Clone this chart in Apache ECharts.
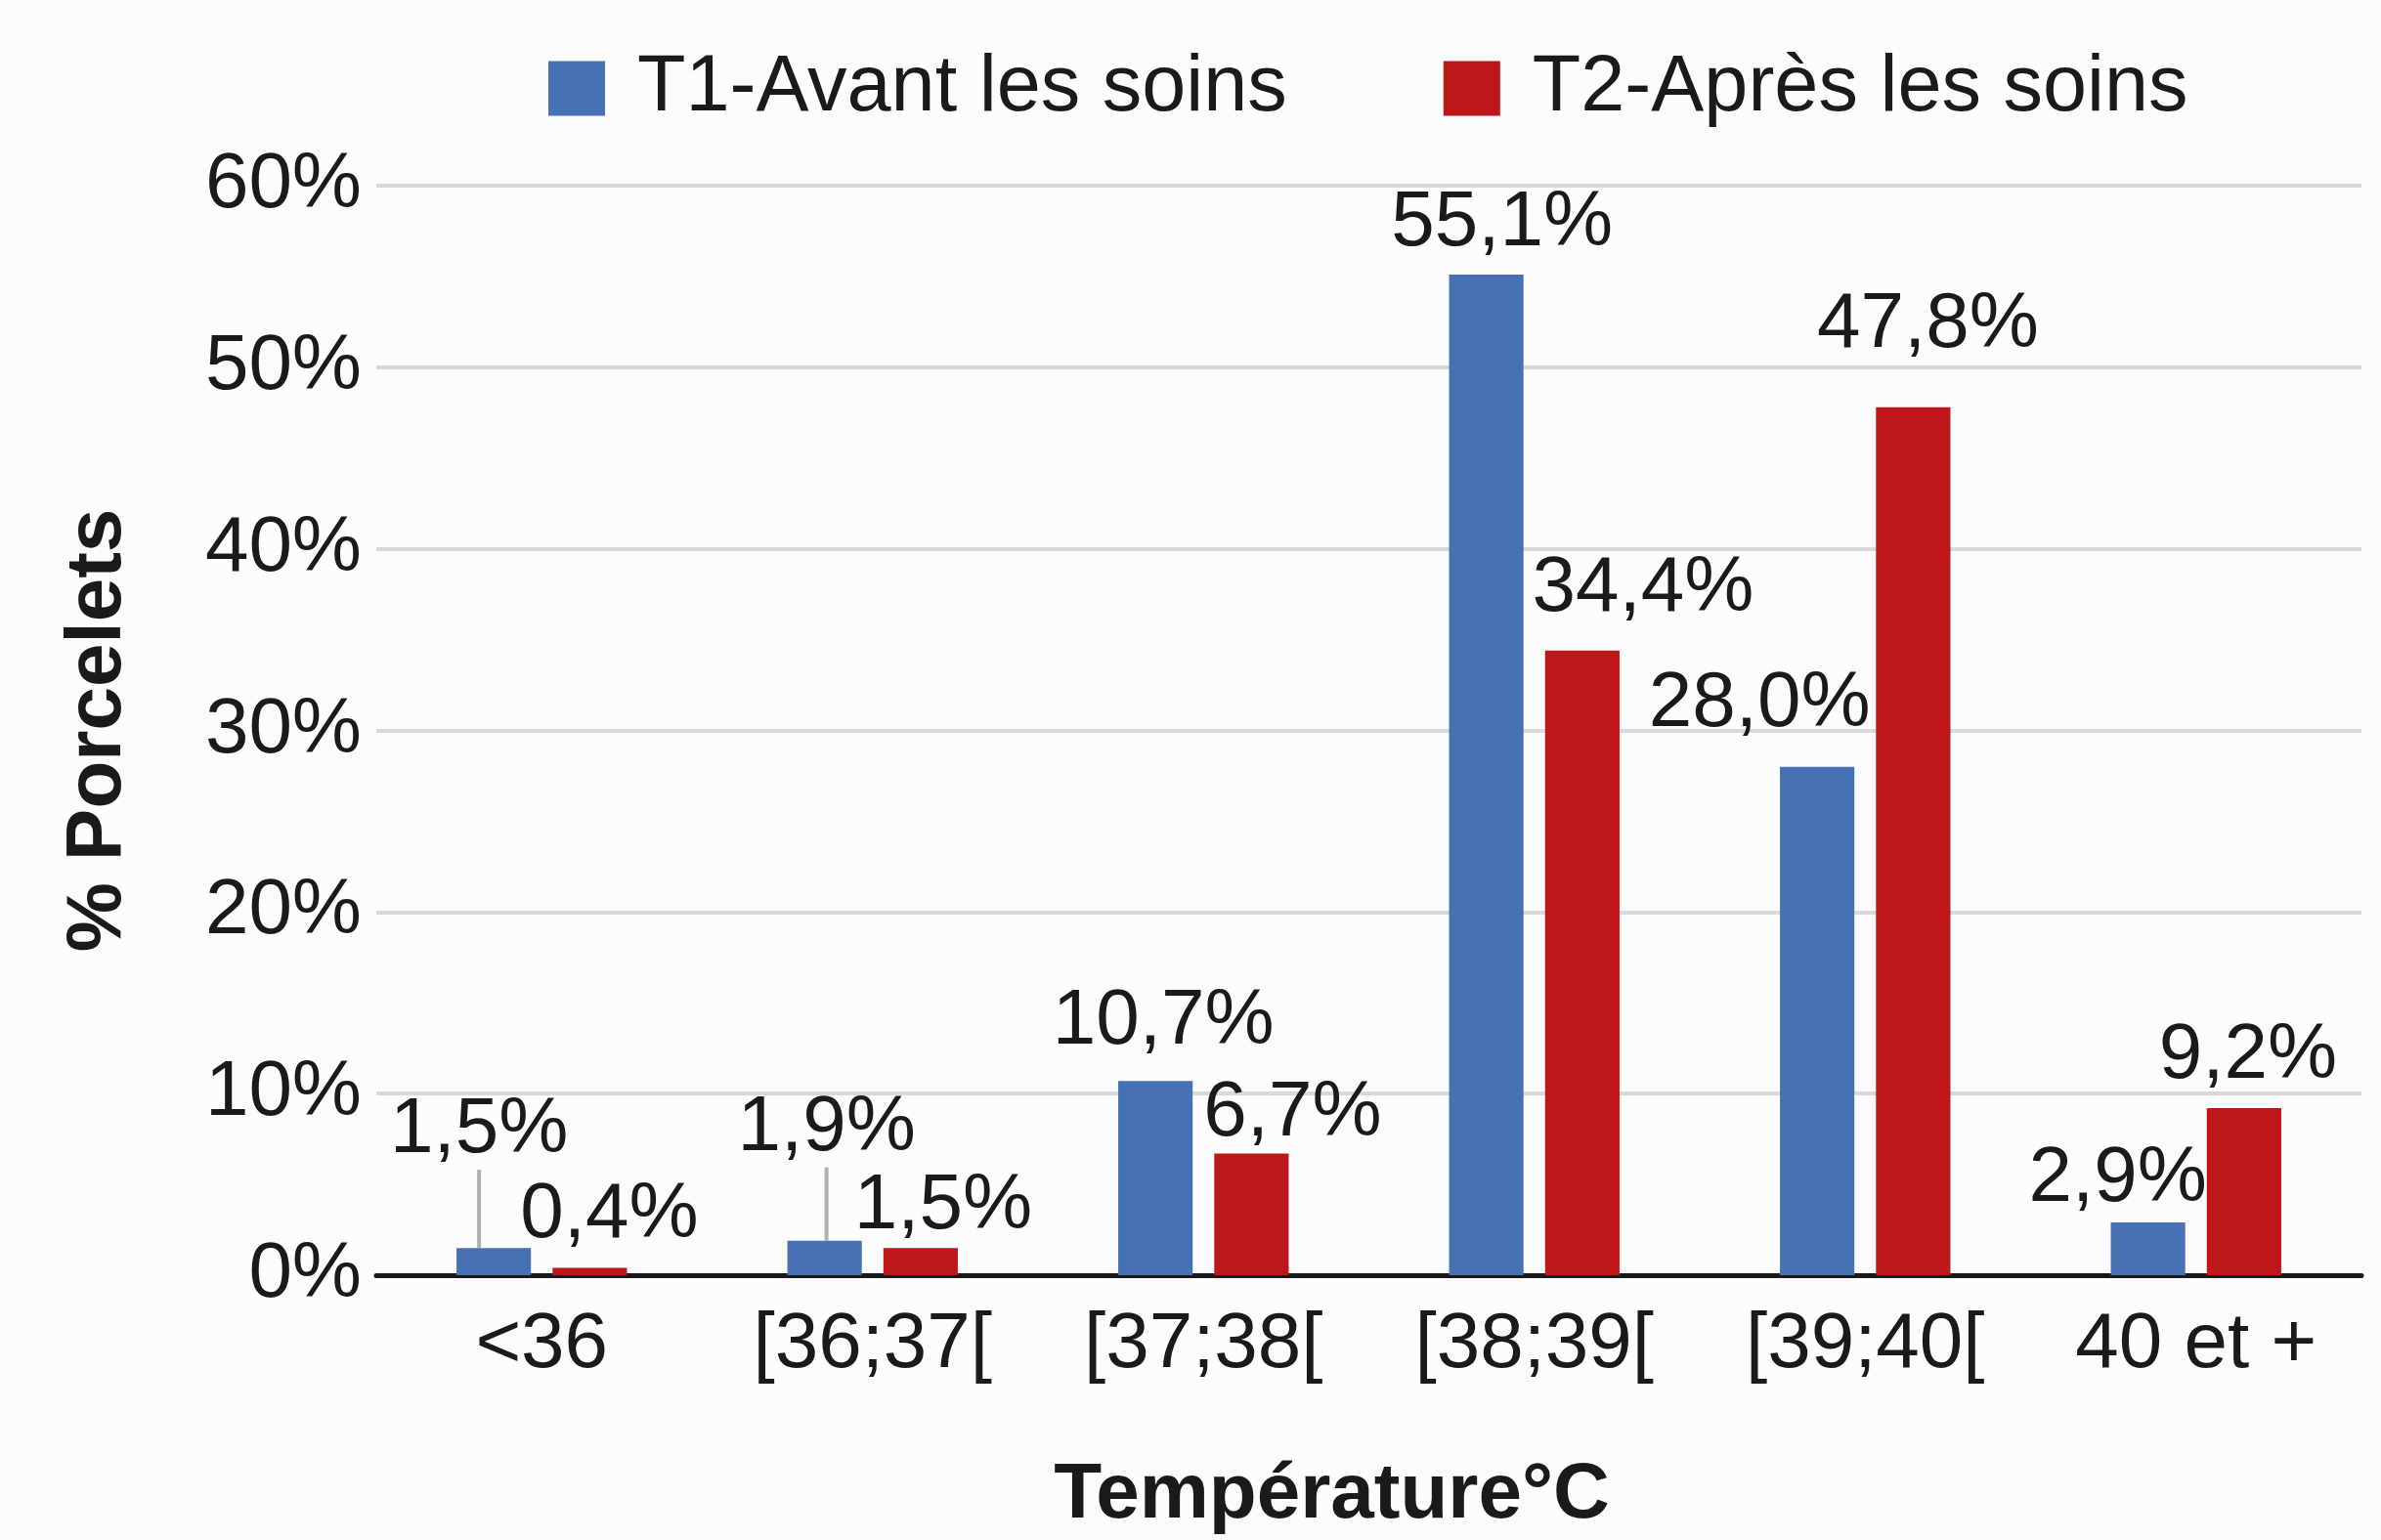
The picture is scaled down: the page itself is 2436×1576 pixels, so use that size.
<!DOCTYPE html>
<html>
<head>
<meta charset="utf-8">
<script src="https://cdn.jsdelivr.net/npm/echarts@6/dist/echarts.min.js"></script>
<style>
html,body{margin:0;padding:0;background:#fcfcfc;}
#chart{width:2436px;height:1576px;}
</style>
</head>
<body>
<div id="chart"></div>
<script>
var categories = ['<36', '[36;37[', '[37;38[', '[38;39[', '[39;40[', '40 et +'];
var seriesNames = ['T1-Avant les soins', 'T2-Après les soins'];
var t1Values = [1.5, 1.9, 10.7, 55.1, 28.0, 2.9];
var t2Values = [0.4, 1.5, 6.7, 34.4, 47.8, 9.2];
var yTicks = [0, 10, 20, 30, 40, 50, 60];

// manual label nudges (dx, dy) in pixels, as in the original figure
var t1LabelShift = [[-15, -80], [2, -75], [8, -20], [16, -12], [-59, -24], [-31, -4]];
var t2LabelShift = [[20, -14], [23, -2], [42, -1], [62, -23], [15, -44], [4, -13]];
var t1Leader = [true, true, false, false, false, false];

var FONT = '"Liberation Sans", Arial, sans-serif';
var chart = echarts.init(document.getElementById('chart'));

function fmt(v) { return v.toFixed(1).replace('.', ',') + '%'; }

var labelStyle = {
  show: true, position: 'top', distance: 0,
  fontFamily: FONT, fontSize: 80, color: '#1a1a1a',
  formatter: function (p) { return fmt(p.value); }
};

chart.setOption({
  backgroundColor: '#fcfcfc',
  animation: false,
  textStyle: { fontFamily: FONT },
  legend: {
    data: seriesNames,
    left: 556, top: 45,
    itemWidth: 58, itemHeight: 56, itemGap: 160,
    icon: 'rect',
    textStyle: { fontFamily: FONT, fontSize: 81, color: '#1a1a1a', padding: [0, 0, 0, 28] }
  },
  grid: { left: 385, right: 20, top: 190, bottom: 263, containLabel: false },
  xAxis: {
    type: 'category',
    data: categories,
    name: 'Température°C',
    nameLocation: 'middle',
    nameGap: 186,
    nameTextStyle: { fontFamily: FONT, fontSize: 80, fontWeight: 'bold', color: '#1a1a1a', padding: [0, 76, 0, 0] },
    axisLine: { lineStyle: { color: '#1a1a1a', width: 5 } },
    axisTick: { show: false },
    axisLabel: { fontFamily: FONT, fontSize: 80, color: '#1a1a1a', margin: 32 }
  },
  yAxis: {
    type: 'value',
    min: yTicks[0], max: yTicks[yTicks.length - 1], interval: 10,
    name: '% Porcelets',
    nameLocation: 'middle',
    nameGap: 244,
    nameTextStyle: { fontFamily: FONT, fontSize: 80, fontWeight: 'bold', color: '#1a1a1a' },
    axisLine: { show: false },
    axisTick: { show: false },
    axisLabel: { fontFamily: FONT, fontSize: 80, color: '#1a1a1a', margin: 15, formatter: '{value}%' },
    splitLine: { lineStyle: { color: '#d9d9d9', width: 4 } }
  },
  series: [
    {
      name: seriesNames[0], type: 'bar',
      data: t1Values.map(function (v, i) {
        return t1Leader[i] ? { value: v, labelLine: { show: true, lineStyle: { color: '#b0b0b0', width: 4 } } } : v;
      }),
      itemStyle: { color: '#4672b5' },
      barWidth: '22.5%', barGap: '29%',
      label: labelStyle,
      labelLine: { show: false, smooth: false, length2: 0 },
      labelLayout: function (p) { var s = t1LabelShift[p.dataIndex]; return { dx: s[0], dy: s[1] }; }
    },
    {
      name: seriesNames[1], type: 'bar',
      data: t2Values,
      itemStyle: { color: '#be171b' },
      barWidth: '22.5%', barGap: '29%',
      label: labelStyle,
      labelLayout: function (p) { var s = t2LabelShift[p.dataIndex]; return { dx: s[0], dy: s[1] }; }
    }
  ]
});
</script>
</body>
</html>
